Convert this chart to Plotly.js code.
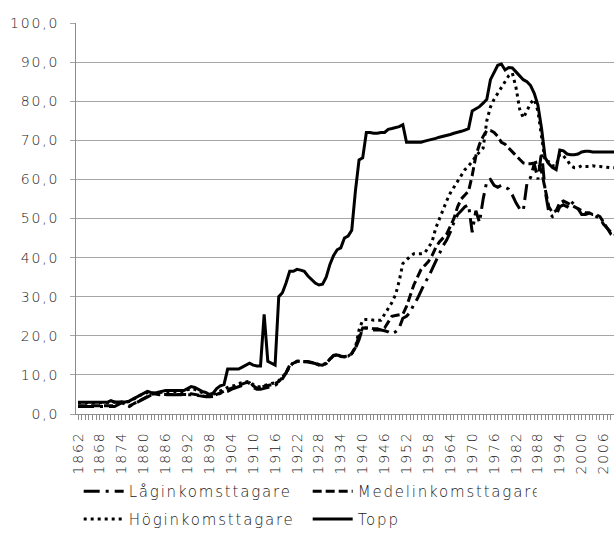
<!DOCTYPE html>
<html>
<head>
<meta charset="utf-8">
<script src="https://cdn.plot.ly/plotly-3.0.1.min.js"></script>
<style>
  html, body { margin: 0; padding: 0; background: #fff; }
  #chart { width: 614px; height: 538px; }
  svg text { letter-spacing: 1.8px; }
</style>
</head>
<body>
<div id="chart"></div>
<script>
var years = [1862,1863,1864,1865,1866,1867,1868,1869,1870,
1871,1872,1873,1874,1875,1876,1877,1878,1879,1880,
1881,1882,1883,1884,1885,1886,1887,1888,1889,1890,
1891,1892,1893,1894,1895,1896,1897,1898,1899,1900,
1901,1902,1903,1904,1905,1906,1907,1908,1909,1910,
1911,1912,1913,1914,1915,1916,1917,1918,1919,1920,
1921,1922,1923,1924,1925,1926,1927,1928,1929,1930,
1931,1932,1933,1934,1935,1936,1937,1938,1939,1940,
1941,1942,1943,1944,1945,1946,1947,1948,1949,1950,
1951,1952,1953,1954,1955,1956,1957,1958,1959,1960,
1961,1962,1963,1964,1965,1966,1967,1968,1969,1970,
1971,1972,1973,1974,1975,1976,1977,1978,1979,1980,
1981,1982,1983,1984,1985,1986,1987,1988,1989,1990,
1991,1992,1993,1994,1995,1996,1997,1998,1999,2000,
2001,2002,2003,2004,2005,2006,2007,2008,2009,2010];

var lagink = [1.9,1.9,1.9,1.9,1.9,1.9,1.9,1.9,1.9,
1.9,1.9,2.4,2.9,2.4,1.9,2.4,2.9,3.4,3.9,
4.2,4.8,5.0,4.9,4.9,4.9,4.9,4.9,4.9,4.9,
4.9,4.9,5.0,4.9,4.7,4.5,4.4,4.4,4.5,5.0,
5.3,5.5,5.8,6.3,6.6,7.0,7.3,7.6,8.0,6.8,
6.3,6.3,6.5,6.8,7.0,7.3,8.0,9.0,10.5,12.5,
13.0,13.4,13.4,13.4,13.3,13.1,12.9,12.5,12.4,12.9,
13.9,14.9,15.1,14.7,14.6,14.7,15.4,16.8,19.0,22.0,
22.0,21.7,21.5,21.5,21.5,21.3,21.0,20.5,21.0,22.0,
24.5,25.0,26.0,28.0,29.5,31.5,33.5,35.0,37.0,39.0,
41.0,43.0,44.5,46.5,49.0,51.0,52.0,53.0,53.5,46.5,
52.0,49.0,55.0,59.5,60.0,58.5,58.0,58.5,58.0,57.5,
56.0,54.0,52.5,52.0,59.0,60.5,64.0,60.0,67.0,57.0,
51.5,50.5,51.0,53.0,53.5,53.0,54.5,53.5,52.5,51.0,
51.0,51.3,51.0,50.5,50.0,48.5,47.5,46.0,45.5,45.0];

var medelink = [2.1,2.1,2.1,2.1,2.1,2.1,2.1,2.1,2.1,
2.1,2.1,2.6,3.0,2.5,2.0,2.5,3.0,3.5,4.0,
4.3,5.0,5.2,5.0,5.0,5.0,5.0,5.0,5.0,5.0,
5.0,5.0,5.2,5.0,4.8,4.6,4.5,4.5,4.6,5.0,
5.5,5.8,6.2,6.6,7.0,7.3,7.8,8.0,8.2,7.2,
6.6,6.8,7.0,7.2,7.5,7.8,8.3,9.3,10.5,12.5,
13.1,13.5,13.5,13.5,13.4,13.2,13.0,12.6,12.5,13.0,
14.0,15.0,15.2,14.8,14.7,14.8,15.5,17.0,20.0,22.0,
22.0,22.0,21.8,21.8,21.5,22.0,23.5,25.0,25.2,25.3,
25.5,27.5,30.5,33.0,35.0,37.0,38.0,39.0,40.5,42.5,
44.0,45.0,46.0,48.0,50.0,53.0,55.0,56.0,57.0,61.0,
66.0,69.0,71.0,72.5,72.5,72.0,71.0,69.5,69.0,68.0,
67.0,66.0,65.0,64.2,64.0,64.0,64.2,64.5,62.0,57.0,
53.0,51.5,52.0,54.0,54.5,54.0,53.5,53.0,52.5,52.0,
51.5,51.5,51.0,51.0,50.5,49.0,47.5,46.5,46.0,45.5];

var hogink = [2.9,2.9,2.9,2.9,2.9,2.9,2.9,2.9,2.9,
3.2,3.0,3.0,3.0,3.0,3.2,3.6,4.2,4.8,5.2,
5.5,5.3,5.4,5.5,5.6,5.6,5.6,5.6,5.6,5.6,
5.6,6.2,6.5,6.3,5.8,5.5,5.2,4.8,5.0,5.5,
6.0,6.5,6.8,7.1,7.3,7.8,8.0,8.2,8.4,7.5,
7.0,7.0,7.2,7.5,7.8,8.0,8.5,9.5,10.5,12.0,
13.2,13.5,13.5,13.5,13.4,13.2,13.0,12.6,12.5,13.0,
14.0,15.0,15.2,14.8,14.7,14.8,15.5,17.0,21.5,24.0,
24.2,24.2,24.0,24.0,24.0,25.5,27.0,28.5,30.5,34.0,
38.5,39.5,40.3,41.0,41.0,41.0,41.2,42.5,44.0,47.5,
50.0,52.2,54.5,56.5,58.0,59.5,61.0,62.5,63.5,64.5,
66.0,67.0,68.0,75.0,78.5,80.5,82.0,83.5,85.3,86.5,
87.2,83.5,78.0,75.7,77.5,79.5,80.5,77.5,71.0,64.5,
64.5,63.5,63.5,66.5,66.0,65.0,63.5,63.0,63.0,63.5,
63.3,63.3,63.5,63.3,63.3,63.2,63.0,63.0,63.0,63.0];

var topp = [3.0,3.0,3.0,3.0,3.0,3.0,3.0,3.0,3.0,
3.4,3.1,3.1,3.1,3.1,3.3,3.8,4.4,5.0,5.5,
5.8,5.5,5.3,5.6,5.8,6.0,6.0,6.0,6.0,6.0,
6.0,6.5,7.0,6.8,6.2,5.8,5.5,5.0,5.3,6.5,
7.2,7.5,11.5,11.5,11.5,11.5,12.0,12.5,13.0,12.5,
12.3,12.3,25.5,13.5,13.0,12.5,30.0,31.0,33.5,36.5,
36.5,37.0,36.8,36.5,35.3,34.5,33.5,33.0,33.2,35.0,
38.2,40.5,42.0,42.5,45.0,45.5,47.0,57.0,65.0,65.5,
72.0,72.0,71.8,71.8,72.0,72.0,72.8,73.0,73.2,73.5,
74.0,69.5,69.5,69.5,69.5,69.5,69.8,70.0,70.2,70.5,
70.8,71.0,71.3,71.5,71.8,72.0,72.3,72.6,73.0,77.5,
78.0,78.6,79.5,80.5,85.5,87.5,89.2,89.5,88.0,88.6,
88.5,87.5,86.5,85.5,85.0,84.0,82.0,79.0,73.0,65.5,
64.0,63.0,62.5,67.5,67.3,66.5,66.3,66.3,66.5,67.0,
67.2,67.2,67.0,67.0,67.0,67.0,67.0,67.0,67.0,67.0];

var seriesNames = ['Låginkomsttagare', 'Medelinkomsttagare', 'Höginkomsttagare', 'Topp'];

var traces = [
  {x: years, y: lagink, name: seriesNames[0], type: 'scatter', mode: 'lines',
   line: {color: '#000', width: 3, dash: '16px,6px,3px,6px'}, legend: 'legend'},
  {x: years, y: medelink, name: seriesNames[1], type: 'scatter', mode: 'lines',
   line: {color: '#000', width: 3, dash: '9px,4px'}, legend: 'legend'},
  {x: years, y: hogink, name: seriesNames[2], type: 'scatter', mode: 'lines',
   line: {color: '#000', width: 3, dash: '3px,4px'}, legend: 'legend2'},
  {x: years, y: topp, name: seriesNames[3], type: 'scatter', mode: 'lines',
   line: {color: '#000', width: 3}, legend: 'legend2'}
];

var txtFont = {family: 'DejaVu Sans', size: 14, color: '#222', weight: 300};

var legendCommon = {
  orientation: 'h', xanchor: 'left', yanchor: 'middle',
  entrywidth: 174, entrywidthmode: 'pixels',
  font: {family: 'DejaVu Sans', size: 15, color: '#222', weight: 300},
  bgcolor: 'rgba(0,0,0,0)', borderwidth: 0, itemwidth: 40
};

var layout = {
  width: 614, height: 538,
  margin: {l: 76, r: 0, t: 23, b: 123.5, pad: 0},
  paper_bgcolor: '#fff', plot_bgcolor: '#fff',
  separators: ', ',
  font: txtFont,
  showlegend: true,
  xaxis: {
    range: [1861.45, 2008.85], tickmode: 'linear', tick0: 1862, dtick: 6,
    tickangle: -90, ticks: 'outside', ticklen: 5, tickcolor: '#8c8c8c',
    showgrid: false, zeroline: false, showline: true, linecolor: '#8c8c8c', linewidth: 1,
    ticklabelstandoff: 6,
    minor: {tick0: 1862, dtick: 1, ticks: 'outside', ticklen: 5, tickcolor: '#8c8c8c', showgrid: false},
    tickfont: txtFont
  },
  yaxis: {
    range: [0, 100], tickmode: 'linear', tick0: 0, dtick: 10, tickformat: '.1f',
    showgrid: true, gridcolor: '#a6a6a6', gridwidth: 1,
    zeroline: false, showline: true, linecolor: '#8c8c8c', linewidth: 1,
    ticks: 'outside', ticklen: 5, tickcolor: '#a6a6a6',
    ticklabelstandoff: 8,
    tickfont: txtFont
  },
  legend: Object.assign({}, legendCommon, {x: 0.005, y: -0.198}),
  legend2: Object.assign({}, legendCommon, {x: 0.005, y: -0.2695})
};

Plotly.newPlot('chart', traces, layout, {displayModeBar: false, staticPlot: true});
</script>
</body>
</html>
